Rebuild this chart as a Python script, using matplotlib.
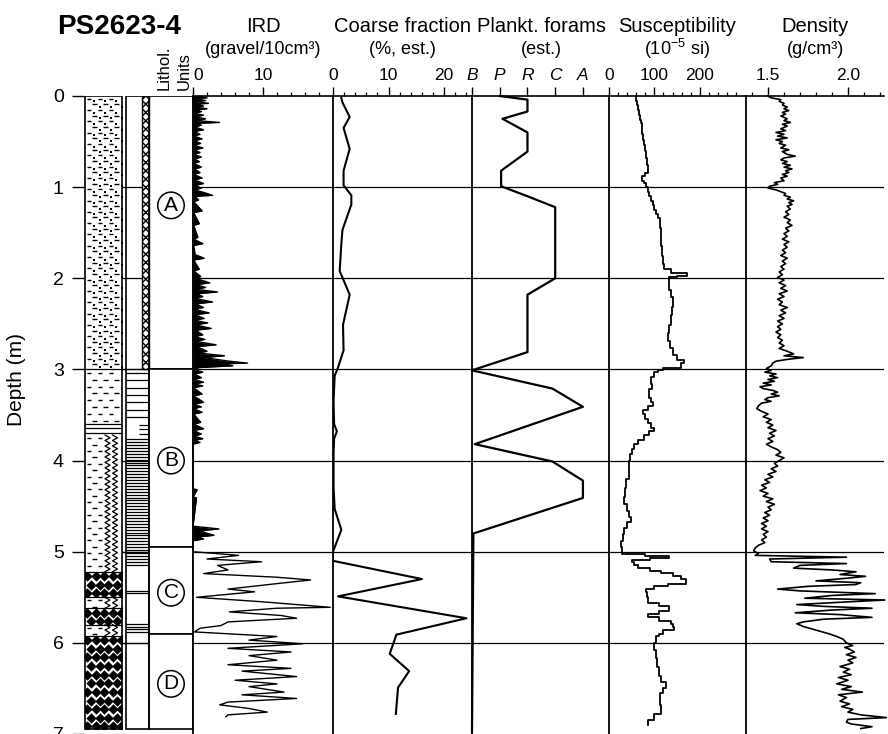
import numpy as np
import matplotlib
matplotlib.use("Agg")
import matplotlib.pyplot as plt
from matplotlib.patches import Rectangle
from matplotlib.collections import LineCollection

plt.rcParams['font.family'] = ['Liberation Sans', 'DejaVu Sans']
plt.rcParams['mathtext.fontset'] = 'custom'
plt.rcParams['mathtext.rm'] = 'Liberation Sans'

# ---------------------------------------------------------------- data
# IRD (gravel / 10 cm3)
ird_depth = [0.00, 0.02, 0.03, 0.05, 0.06, 0.08, 0.09, 0.11, 0.12, 0.14, 0.15, 0.17, 0.19,
             0.21, 0.23, 0.25, 0.27, 0.29, 0.30, 0.32, 0.34, 0.37, 0.39, 0.42, 0.44, 0.47,
             0.49, 0.52, 0.54, 0.57, 0.59, 0.62, 0.64, 0.67, 0.69, 0.72, 0.74, 0.78, 0.80,
             0.84, 0.86, 0.90, 0.92, 0.96, 0.98, 1.01, 1.03, 1.06, 1.09, 1.10, 1.14, 1.16,
             1.26, 1.28, 1.40, 1.42, 1.55, 1.57, 1.62, 1.64, 1.74, 1.78, 1.80, 1.90, 1.92,
             1.98, 2.00, 2.03, 2.05, 2.07, 2.10, 2.12, 2.15, 2.17, 2.20, 2.22, 2.26, 2.28,
             2.32, 2.34, 2.38, 2.40, 2.44, 2.46, 2.49, 2.51, 2.55, 2.57, 2.62, 2.64, 2.67,
             2.69, 2.73, 2.75, 2.80, 2.82, 2.85, 2.87, 2.91, 2.93, 2.94, 2.96, 2.98, 3.00,
             3.03, 3.05, 3.09, 3.11, 3.14, 3.16, 3.18, 3.20, 3.27, 3.29, 3.36, 3.38, 3.41,
             3.43, 3.47, 3.49, 3.58, 3.60, 3.65, 3.67, 3.71, 3.73, 3.76, 3.78, 3.80, 3.82,
             4.31, 4.32, 4.40, 4.41, 4.72, 4.75, 4.77, 4.80, 4.82, 4.84, 4.86, 4.88,
             5.00, 5.04, 5.08, 5.11, 5.15, 5.20, 5.24, 5.28, 5.31, 5.35, 5.41, 5.44, 5.50,
             5.55, 5.61, 5.62, 5.66, 5.70, 5.73, 5.77, 5.81, 5.84, 5.88, 5.93, 5.97, 6.01,
             6.06, 6.10, 6.14, 6.19, 6.24, 6.28, 6.31, 6.37, 6.41, 6.45, 6.48, 6.54, 6.57,
             6.61, 6.65, 6.68, 6.72, 6.76, 6.79, 6.81]
ird_value = [0.5, 2.0, 0.3, 1.8, 0.2, 2.2, 0.3, 1.5, 0.2, 2.0, 0.4, 1.2, 0.2,
             1.5, 0.3, 1.8, 0.5, 3.8, 0.4, 1.2, 0.2, 1.5, 0.2, 1.0, 0.1, 1.3,
             0.2, 1.1, 0.1, 1.4, 0.2, 1.0, 0.1, 1.2, 0.2, 0.9, 0.1, 1.2, 0.2,
             1.0, 0.1, 1.3, 0.2, 1.5, 0.3, 1.2, 0.2, 1.6, 2.8, 0.3, 0.8, 0.1,
             1.3, 0.1, 0.9, 0.1, 0.7, 0.1, 1.4, 0.1, 0.3, 1.6, 0.1, 0.9, 0.1,
             1.1, 0.3, 1.6, 2.4, 0.4, 1.8, 0.3, 3.5, 0.5, 1.4, 0.3, 2.8, 0.4,
             1.5, 0.2, 2.3, 0.3, 1.6, 0.2, 2.1, 0.3, 2.6, 0.4, 1.4, 0.2, 1.7,
             0.3, 3.3, 0.5, 2.0, 0.8, 4.5, 1.5, 5.2, 7.8, 4.0, 5.7, 0.8, 0.2,
             1.4, 0.2, 1.2, 0.1, 1.5, 0.1, 1.4, 0.1, 1.3, 0.1, 1.5, 0.1, 1.2,
             0.1, 1.3, 0.1, 1.1, 0.1, 1.5, 0.1, 1.2, 0.1, 1.4, 0.1, 1.0, 0.0,
             0.0, 0.6, 0.0, 0.5, 0.0, 3.7, 1.0, 2.1, 3.0, 0.5, 1.5, 0.0,
             0.0, 6.5, 2.0, 9.8, 3.5, 5.0, 1.5, 12.0, 16.8, 12.0, 5.0, 8.8, 0.5,
             10.0, 19.6, 12.0, 5.2, 12.6, 14.8, 5.0, 4.0, 1.0, 0.2, 12.0, 8.0, 15.7,
             5.0, 14.0, 8.0, 12.0, 5.0, 14.0, 7.0, 14.8, 6.0, 12.0, 8.0, 13.0, 7.0,
             14.8, 5.0, 3.8, 8.0, 10.6, 5.0, 4.7]

# Coarse fraction (%, estimated)
cf_depth = [0.02, 0.07, 0.23, 0.35, 0.58, 0.82, 0.98, 1.09, 1.19, 1.47, 1.62, 1.92, 2.18,
            2.51, 2.79, 2.98, 3.07, 3.35, 3.60, 3.68, 3.76, 3.92, 4.29, 4.53, 4.76, 5.00,
            5.10, 5.30, 5.49, 5.73, 5.91, 6.12, 6.31, 6.49, 6.78]
cf_value = [1.5, 1.7, 3.0, 1.9, 3.0, 1.9, 1.9, 3.3, 3.3, 1.7, 1.5, 1.2, 3.0,
            1.8, 1.9, 0.9, 0.3, 0.1, 0.2, 0.7, 0.2, 0.1, 0.1, 0.3, 1.5, 0.0,
            0.0, 16.0, 0.9, 24.0, 11.4, 10.2, 13.7, 11.7, 11.3]

# Planktic foraminifera abundance: 0=B, 1=P, 2=R, 3=C, 4=A
pf_depth = [0.00, 0.04, 0.17, 0.25, 0.40, 0.61, 0.82, 0.99, 1.10, 1.22, 2.00, 2.18,
            2.81, 3.01, 3.21, 3.41, 3.82, 4.01, 4.22, 4.41, 4.80, 6.97]
pf_value = [1.0, 2.0, 2.0, 1.1, 2.0, 2.0, 1.05, 1.05, 2.0, 3.0, 3.0, 2.0,
            2.0, 0.0, 2.9, 4.0, 0.1, 2.9, 4.0, 4.0, 0.05, 0.0]
pf_labels = ['B', 'P', 'R', 'C', 'A']

# Magnetic susceptibility (10^-5 SI)
sus_depth = [0.01, 0.05, 0.10, 0.15, 0.21, 0.26, 0.30, 0.36, 0.42, 0.48, 0.54, 0.60,
             0.68, 0.76, 0.84, 0.88, 0.93, 0.96, 1.00, 1.05, 1.10, 1.15, 1.20, 1.25,
             1.29, 1.34, 1.38, 1.45, 1.57, 1.65, 1.76, 1.84, 1.90, 1.94, 1.97, 1.99,
             2.01, 2.13, 2.20, 2.32, 2.40, 2.51, 2.60, 2.69, 2.76, 2.84, 2.90, 2.93,
             2.98, 3.01, 3.03, 3.08, 3.16, 3.22, 3.31, 3.36, 3.40, 3.45, 3.49, 3.54,
             3.59, 3.64, 3.68, 3.72, 3.77, 3.82, 3.87, 3.93, 4.01, 4.10, 4.20, 4.30,
             4.40, 4.48, 4.55, 4.62, 4.67, 4.74, 4.81, 4.88, 4.95, 5.02, 5.05, 5.07,
             5.09, 5.11, 5.15, 5.18, 5.21, 5.23, 5.27, 5.30, 5.35, 5.38, 5.41, 5.44,
             5.50, 5.56, 5.60, 5.65, 5.68, 5.72, 5.76, 5.79, 5.83, 5.86, 5.90, 5.93,
             6.00, 6.08, 6.17, 6.26, 6.36, 6.43, 6.50, 6.55, 6.59, 6.68, 6.78, 6.85,
             6.90]
sus_value = [59, 60, 62, 63, 66, 68, 71, 72, 73, 75, 77, 79,
             81, 83, 85, 80, 73, 78, 81, 85, 89, 92, 96, 100,
             103, 108, 112, 113, 114, 115, 116, 118, 121, 136, 171, 150,
             132, 132, 136, 140, 138, 136, 133, 131, 135, 140, 150, 165,
             158, 120, 107, 100, 92, 95, 88, 92, 96, 85, 74, 80,
             85, 92, 99, 88, 77, 65, 55, 50, 46, 45, 44, 38,
             35, 33, 40, 45, 48, 40, 33, 30, 27, 29, 80, 132,
             90, 51, 55, 63, 90, 114, 140, 158, 169, 130, 100, 81,
             83, 85, 110, 132, 110, 85, 110, 136, 140, 143, 120, 110,
             103, 100, 103, 105, 110, 115, 125, 118, 112, 113, 114, 100,
             85]

# Wet bulk density (g/cm3)
den_depth = [0.00, 0.02, 0.04, 0.06, 0.08, 0.10, 0.12, 0.14, 0.16, 0.18, 0.20, 0.22,
             0.25, 0.27, 0.29, 0.31, 0.33, 0.36, 0.38, 0.40, 0.42, 0.44, 0.46, 0.48,
             0.50, 0.52, 0.54, 0.57, 0.59, 0.61, 0.64, 0.66, 0.68, 0.70, 0.72, 0.74,
             0.76, 0.78, 0.80, 0.82, 0.84, 0.86, 0.88, 0.90, 0.93, 0.95, 0.97, 0.99,
             1.01, 1.03, 1.05, 1.07, 1.09, 1.11, 1.13, 1.15, 1.17, 1.19, 1.21, 1.24,
             1.27, 1.30, 1.33, 1.36, 1.39, 1.42, 1.45, 1.48, 1.51, 1.54, 1.57, 1.60,
             1.63, 1.66, 1.69, 1.72, 1.75, 1.78, 1.81, 1.84, 1.87, 1.90, 1.93, 1.96,
             1.99, 2.02, 2.05, 2.08, 2.11, 2.14, 2.17, 2.20, 2.23, 2.26, 2.29, 2.32,
             2.35, 2.38, 2.41, 2.44, 2.47, 2.50, 2.53, 2.56, 2.59, 2.62, 2.65, 2.68,
             2.71, 2.74, 2.77, 2.80, 2.83, 2.85, 2.87, 2.89, 2.91, 2.93, 2.96, 2.99,
             3.01, 3.03, 3.05, 3.07, 3.09, 3.11, 3.13, 3.15, 3.17, 3.19, 3.21, 3.23,
             3.25, 3.27, 3.29, 3.31, 3.33, 3.35, 3.37, 3.40, 3.43, 3.46, 3.49, 3.52,
             3.55, 3.58, 3.61, 3.64, 3.67, 3.70, 3.73, 3.76, 3.79, 3.82, 3.85, 3.88,
             3.91, 3.94, 3.97, 4.00, 4.03, 4.06, 4.09, 4.12, 4.15, 4.18, 4.21, 4.24,
             4.27, 4.30, 4.33, 4.36, 4.39, 4.42, 4.45, 4.48, 4.51, 4.54, 4.57, 4.60,
             4.63, 4.66, 4.69, 4.72, 4.75, 4.78, 4.81, 4.84, 4.87, 4.90, 4.93, 4.96,
             4.99, 5.02, 5.04, 5.06, 5.08, 5.11, 5.13, 5.15, 5.18, 5.20, 5.22, 5.25,
             5.27, 5.29, 5.32, 5.34, 5.36, 5.38, 5.41, 5.43, 5.46, 5.48, 5.51, 5.53,
             5.55, 5.58, 5.60, 5.62, 5.64, 5.67, 5.69, 5.72, 5.74, 5.77, 5.79, 5.82,
             5.86, 5.90, 5.93, 5.96, 6.00, 6.03, 6.05, 6.07, 6.10, 6.13, 6.16, 6.19,
             6.22, 6.26, 6.29, 6.32, 6.35, 6.38, 6.41, 6.45, 6.48, 6.51, 6.54, 6.57,
             6.60, 6.64, 6.67, 6.70, 6.73, 6.76, 6.79, 6.82, 6.84, 6.87, 6.89, 6.92,
             6.94]
den_value = [1.50, 1.52, 1.58, 1.57, 1.60, 1.59, 1.62, 1.60, 1.63, 1.59, 1.61, 1.58,
             1.62, 1.60, 1.64, 1.59, 1.62, 1.58, 1.61, 1.55, 1.60, 1.56, 1.62, 1.55,
             1.59, 1.57, 1.61, 1.58, 1.63, 1.59, 1.62, 1.67, 1.60, 1.58, 1.62, 1.59,
             1.64, 1.60, 1.65, 1.61, 1.63, 1.59, 1.62, 1.58, 1.60, 1.54, 1.56, 1.51,
             1.50, 1.55, 1.58, 1.61, 1.60, 1.64, 1.62, 1.66, 1.63, 1.65, 1.62, 1.64,
             1.61, 1.63, 1.60, 1.64, 1.62, 1.65, 1.61, 1.63, 1.60, 1.62, 1.59, 1.63,
             1.60, 1.62, 1.59, 1.61, 1.58, 1.62, 1.59, 1.61, 1.58, 1.60, 1.57, 1.59,
             1.56, 1.60, 1.57, 1.61, 1.58, 1.62, 1.57, 1.60, 1.56, 1.59, 1.57, 1.62,
             1.58, 1.61, 1.57, 1.60, 1.56, 1.59, 1.56, 1.58, 1.55, 1.58, 1.56, 1.59,
             1.57, 1.60, 1.57, 1.62, 1.66, 1.60, 1.72, 1.62, 1.55, 1.53, 1.52, 1.49,
             1.52, 1.48, 1.55, 1.51, 1.56, 1.50, 1.54, 1.47, 1.52, 1.45, 1.47, 1.53,
             1.56, 1.52, 1.57, 1.50, 1.48, 1.52, 1.46, 1.44, 1.43, 1.46, 1.50, 1.47,
             1.52, 1.49, 1.53, 1.50, 1.55, 1.51, 1.54, 1.50, 1.53, 1.49, 1.52, 1.56,
             1.58, 1.55, 1.60, 1.57, 1.54, 1.56, 1.52, 1.55, 1.50, 1.53, 1.48, 1.51,
             1.46, 1.49, 1.45, 1.50, 1.47, 1.53, 1.49, 1.54, 1.50, 1.52, 1.48, 1.51,
             1.47, 1.50, 1.46, 1.49, 1.46, 1.50, 1.47, 1.49, 1.46, 1.48, 1.44, 1.42,
             1.41, 1.44, 1.42, 1.99, 1.51, 1.52, 1.99, 1.70, 1.66, 1.90, 2.05, 1.95,
             2.11, 2.00, 1.80, 2.08, 2.05, 1.75, 1.56, 1.70, 2.17, 1.90, 1.73, 2.23,
             2.00, 1.68, 1.85, 2.15, 1.90, 1.67, 1.95, 2.15, 1.85, 1.72, 1.68, 1.72,
             1.80, 1.88, 1.93, 1.97, 1.99, 2.03, 1.98, 2.01, 2.04, 1.99, 2.05, 2.00,
             2.03, 1.95, 2.01, 1.97, 2.02, 1.94, 2.00, 1.93, 2.02, 1.96, 2.09, 1.94,
             1.99, 1.95, 2.01, 1.96, 2.03, 2.00, 2.08, 2.24, 2.00, 1.99, 2.02, 2.15,
             2.08]

# Lithological units (top, bottom, label, label depth)
unit_top = [0.0, 3.0, 4.95, 5.9]
unit_bottom = [3.0, 4.95, 5.9, 6.95]
unit_label = ['A', 'B', 'C', 'D']
unit_label_depth = [1.2, 4.0, 5.45, 6.45]

# ---------------------------------------------------------------- layout
W, H = 888, 734
TOP = 96
fig = plt.figure(figsize=(W / 100, H / 100), dpi=100)


def add_panel(x0, x1):
    ax = fig.add_axes([x0 / W, 0, (x1 - x0) / W, (H - TOP) / H])
    ax.set_ylim(7, 0)
    return ax


def style_panel(ax, xlim, major, minor, labels, italic=False):
    ax.set_xlim(*xlim)
    ax.xaxis.tick_top()
    ax.set_xticks(major)
    ax.set_xticks(minor, minor=True)
    ax.set_xticklabels(labels, fontstyle='italic' if italic else 'normal')
    ax.tick_params(axis='x', which='major', direction='out', length=6.5, width=1.0,
                   labelsize=12.5, pad=3)
    ax.tick_params(axis='x', which='minor', direction='out', length=3.2, width=0.9)
    ax.set_yticks([])
    for s in ('bottom', 'right'):
        ax.spines[s].set_visible(False)
    ax.spines['top'].set_linewidth(1.2)
    ax.spines['left'].set_linewidth(1.3)
    for d in range(1, 7):
        ax.axhline(d, color='black', lw=0.9, zorder=1)


def header(xc, line1, line2):
    fig.text(xc / W, 1 - 26 / H, line1, ha='center', va='center', fontsize=14.5)
    fig.text(xc / W, 1 - 49 / H, line2, ha='center', va='center', fontsize=13)


# ---------------------------------------------------------------- lithology log
lit = fig.add_axes([84 / W, 0, 109 / W, (H - TOP) / H])
lit.set_xlim(0, 109)
lit.set_ylim(7, 0)
for s in lit.spines.values():
    s.set_visible(False)
lit.set_xticks([])
lit.set_yticks(range(8))
lit.tick_params(axis='y', length=8.5, width=1.0, labelsize=14, pad=6)
fig.text(16 / W, 1 - 380 / H, 'Depth (m)', rotation=90, ha='center', va='center',
         fontsize=15)

C1 = (1, 38)     # lithology pattern column
C2 = (42, 65)    # sedimentary structure column
CU = (65, 109)   # unit column


def clip_rect(x0, x1, d0, d1):
    r = Rectangle((x0, d0), x1 - x0, d1 - d0, transform=lit.transData,
                  facecolor='none', edgecolor='none')
    lit.add_patch(r)
    return r


def dashes(d0, d1, x0, x1, row=0.062, dash=4.5, gap=6.5, dots=True, xmax=None):
    xmax = x1 if xmax is None else xmax
    segs, dx, dy = [], [], []
    for i, y in enumerate(np.arange(d0 + row / 2, d1, row)):
        off = (i % 2) * (dash + gap) / 2
        for x in np.arange(x0 + 1.5 + off, xmax - dash + 0.5, dash + gap):
            segs.append([(x, y), (x + dash, y)])
            if dots:
                dx.append(x + dash + gap / 2)
                dy.append(y + row * 0.45)
    lit.add_collection(LineCollection(segs, colors='k', lw=1.0, zorder=3))
    if dots:
        sc = lit.scatter(dx, dy, s=2.5, c='k', marker='s', lw=0, zorder=3)
        sc.set_clip_path(clip_rect(x0, x1, d0, d1))


def zigzag(d0, d1, xc, amp=2.5, step=0.03):
    ys = np.arange(d0, d1 + 1e-9, step)
    xs = xc + amp * np.where(np.arange(len(ys)) % 2 == 0, -1, 1)
    lit.plot(xs, ys, color='k', lw=0.9, zorder=3)


def gravel(d0, d1, x0, x1, dx=8.5, dy=0.095):
    px, py = [], []
    for i, y in enumerate(np.arange(d0 + dy / 2, d1, dy)):
        off = (i % 2) * dx / 2
        for x in np.arange(x0 + 2 + off, x1, dx):
            px.append(x)
            py.append(y)
    sc = lit.scatter(px, py, s=28, c='k', marker='D', lw=0, zorder=3)
    sc.set_clip_path(clip_rect(x0, x1, d0, d1))


def laminae(d0, d1, x0, x1, step):
    segs = [[(x0, y), (x1, y)] for y in np.arange(d0 + step / 2, d1, step)]
    lit.add_collection(LineCollection(segs, colors='k', lw=0.9, zorder=3))


# grid lines visible in the white parts of the log
for d in range(1, 7):
    lit.plot([C1[1], C2[1]], [d, d], color='k', lw=0.9, zorder=1)
for d in (3, 5, 6):
    lit.plot([C1[1], CU[1]], [d, d], color='k', lw=0.9, zorder=1)

# column 1: lithology
lit.add_patch(Rectangle((C1[0], 0), C1[1] - C1[0], 6.95, facecolor='white',
                        edgecolor='k', lw=1.2, zorder=2))
dashes(0.0, 3.0, *C1)
dashes(3.0, 3.58, *C1, row=0.075, dots=False)
laminae(3.58, 3.72, C1[0], C1[1], 0.045)
for a, b in [(3.72, 5.22), (5.50, 5.62), (5.80, 5.92)]:
    dashes(a, b, *C1, row=0.07, dots=False, xmax=20)
    zigzag(a, b, 23.5)
    zigzag(a, b, 31.0)
for a, b in [(5.22, 5.50), (5.62, 5.80), (5.92, 6.95)]:
    gravel(a, b, *C1)
for d in (3.0, 5.22, 5.50, 5.62, 5.80, 5.92):
    lit.plot([C1[0], C1[1]], [d, d], color='k', lw=0.9, zorder=3)

# column 2: sedimentary structures
lit.add_patch(Rectangle((C2[0], 0), C2[1] - C2[0], 6.95, facecolor='none',
                        edgecolor='k', lw=1.2, zorder=4))
lit.add_patch(Rectangle((58, 0), 7, 3.0, facecolor='white', edgecolor='k', lw=1.0,
                        hatch='xxxx', zorder=3))
laminae(3.0, 3.58, C2[0], C2[1], 0.08)
laminae(3.58, 3.75, 55, C2[1], 0.05)
laminae(3.75, 5.17, C2[0], C2[1], 0.032)
laminae(5.42, 5.47, C2[0], C2[1], 0.025)
laminae(5.78, 5.88, C2[0], C2[1], 0.028)

# unit column
for t, b, lab, ld in zip(unit_top, unit_bottom, unit_label, unit_label_depth):
    lit.add_patch(Rectangle((CU[0], t), CU[1] - CU[0], b - t, facecolor='white',
                            edgecolor='k', lw=1.2, zorder=2))
    lit.text((CU[0] + CU[1]) / 2, ld, lab, ha='center', va='center', fontsize=15,
             zorder=5, bbox=dict(boxstyle='circle,pad=0.18', fc='white', ec='k', lw=1.1))

fig.text(164 / W, 1 - 90 / H, 'Lithol.', rotation=90, ha='center', va='bottom', fontsize=12)
fig.text(184 / W, 1 - 90 / H, 'Units', rotation=90, ha='center', va='bottom', fontsize=12)
fig.text(57 / W, 1 - 27 / H, 'PS2623-4', ha='left', va='center', fontsize=20,
         fontweight='bold')

# ---------------------------------------------------------------- IRD
ax = add_panel(193, 333)
style_panel(ax, (0, 20), [0, 10], np.arange(2, 20, 2), ['0', '10'])
ax.get_xticklabels()[0].set_horizontalalignment('left')
ax.plot(ird_value, ird_depth, color='k', lw=1.0, zorder=3)
ax.fill_betweenx(ird_depth, 0, ird_value, where=np.array(ird_depth) < 4.9,
                 color='k', lw=0, zorder=2)
header(263, 'IRD', '(gravel/10cm³)')

# ---------------------------------------------------------------- coarse fraction
ax = add_panel(333, 472)
style_panel(ax, (0, 25), [0, 10, 20], np.arange(2, 25, 2), ['0', '10', '20'])
ax.plot(cf_value, cf_depth, color='k', lw=1.5, zorder=3)
header(402, 'Coarse fraction', '(%, est.)')

# ---------------------------------------------------------------- planktic forams
ax = add_panel(472, 609)
style_panel(ax, (0, 4.94), [0, 1, 2, 3, 4], [], pf_labels, italic=True)
ax.plot(pf_value, pf_depth, color='k', lw=1.6, zorder=3, clip_on=False)
header(541, 'Plankt. forams', '(est.)')

# ---------------------------------------------------------------- susceptibility
ax = add_panel(609, 746)
style_panel(ax, (0, 302), [0, 100, 200], np.arange(20, 300, 20), ['0', '100', '200'])
ax.plot(sus_value, sus_depth, color='k', lw=1.3, drawstyle='steps-post', zorder=3)
header(677, 'Susceptibility', '(10$^{\\mathregular{-5}}$ si)')

# ---------------------------------------------------------------- density
ax = add_panel(746, 884)
style_panel(ax, (1.3625, 2.225), [1.5, 2.0], np.arange(1.4, 2.21, 0.1),
            ['1.5', '2.0'])
ax.plot(den_value, den_depth, color='k', lw=1.2, zorder=3, clip_on=False)
header(815, 'Density', '(g/cm³)')

fig.savefig('out.png', dpi=100)
